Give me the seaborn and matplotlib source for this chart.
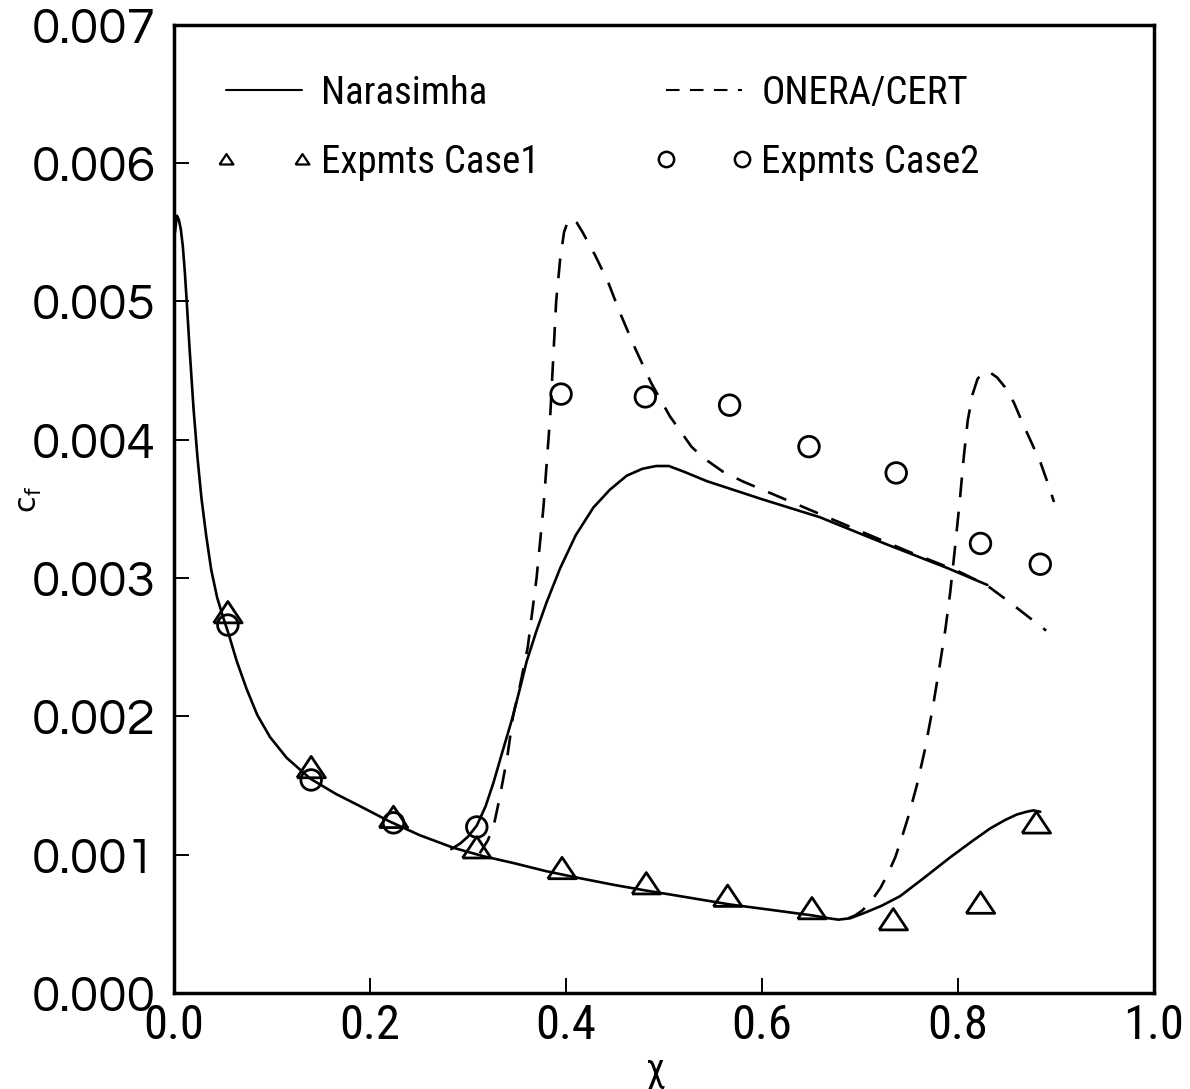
import numpy as np
import pandas as pd
import matplotlib
matplotlib.use("Agg")
import matplotlib.pyplot as plt
from matplotlib.lines import Line2D
import seaborn as sns

# ---------------- data ----------------
# Narasimha, laminar / case-1 branch
nar1_x = [0.001, 0.003, 0.005, 0.007, 0.009, 0.011, 0.013, 0.016, 0.020, 0.024,
          0.028, 0.033, 0.038, 0.044, 0.050, 0.056, 0.064, 0.074, 0.085, 0.098,
          0.115, 0.139, 0.165, 0.190, 0.220, 0.251, 0.285, 0.315, 0.346, 0.380,
          0.414, 0.450, 0.482, 0.525, 0.567, 0.610, 0.652, 0.668, 0.678, 0.690,
          0.705, 0.722, 0.741, 0.765, 0.792, 0.815, 0.833, 0.848, 0.860, 0.870,
          0.877, 0.884]
nar1_y = [0.00550, 0.00562, 0.00559, 0.00552, 0.00540, 0.00522, 0.00500, 0.00465,
          0.00422, 0.00387, 0.00358, 0.00330, 0.00306, 0.00286, 0.00272, 0.00259,
          0.00240, 0.00220, 0.00201, 0.00185, 0.00170, 0.00155, 0.00144, 0.00135,
          0.00124, 0.00114, 0.00105, 0.00099, 0.00094, 0.00088, 0.00083, 0.00078,
          0.00074, 0.00069, 0.00064, 0.00060, 0.00056, 0.00054, 0.00053, 0.00054,
          0.00058, 0.00063, 0.00070, 0.00083, 0.00098, 0.00110, 0.00119, 0.00125,
          0.00129, 0.00131, 0.00132, 0.00131]
# Narasimha, case-2 transition branch
nar2_x = [0.283, 0.292, 0.300, 0.309, 0.318, 0.326, 0.335, 0.345, 0.353, 0.360,
          0.370, 0.380, 0.394, 0.410, 0.428, 0.445, 0.462, 0.478, 0.492, 0.505,
          0.520, 0.544, 0.600, 0.659, 0.725, 0.790, 0.830]
nar2_y = [0.00104, 0.00108, 0.00113, 0.00121, 0.00135, 0.00152, 0.00174, 0.00198,
          0.00220, 0.00240, 0.00262, 0.00282, 0.00307, 0.00331, 0.00351, 0.00364,
          0.00374, 0.00379, 0.00381, 0.00381, 0.00377, 0.00370, 0.00357, 0.00344,
          0.00325, 0.00307, 0.00295]
# ONERA/CERT, case-2 branch
one2_x = [0.312, 0.320, 0.326, 0.332, 0.340, 0.346, 0.353, 0.361, 0.370, 0.377,
          0.384, 0.390, 0.394, 0.398, 0.402, 0.406, 0.411, 0.417, 0.430, 0.443,
          0.455, 0.470, 0.487, 0.506, 0.518, 0.528, 0.540, 0.560, 0.580, 0.600,
          0.650, 0.700, 0.750, 0.800, 0.829, 0.850, 0.870, 0.890]
one2_y = [0.00101, 0.00110, 0.00120, 0.00140, 0.00170, 0.00200, 0.00222, 0.00250,
          0.00300, 0.00351, 0.00418, 0.00500, 0.00530, 0.00550, 0.00558, 0.00560,
          0.00557, 0.00550, 0.00533, 0.00514, 0.00492, 0.00467, 0.00441, 0.00417,
          0.00405, 0.00395, 0.00387, 0.00377, 0.00370, 0.00364, 0.00349, 0.00334,
          0.00319, 0.00305, 0.00295, 0.00284, 0.00273, 0.00262]
# ONERA/CERT, case-1 branch
one1_x = [0.688, 0.695, 0.703, 0.713, 0.721, 0.729, 0.736, 0.743, 0.750, 0.758,
          0.766, 0.774, 0.781, 0.787, 0.792, 0.797, 0.802, 0.806, 0.810, 0.815,
          0.820, 0.826, 0.832, 0.840, 0.848, 0.857, 0.866, 0.875, 0.884, 0.892,
          0.898]
one1_y = [0.00054, 0.00056, 0.00060, 0.00068, 0.00076, 0.00087, 0.00098, 0.00113,
          0.00129, 0.00150, 0.00175, 0.00205, 0.00235, 0.00262, 0.00289, 0.00322,
          0.00357, 0.00388, 0.00414, 0.00433, 0.00444, 0.00449, 0.00449, 0.00445,
          0.00438, 0.00427, 0.00412, 0.00398, 0.00384, 0.00368, 0.00355]
# experiments
case1_x = [0.055, 0.140, 0.224, 0.309, 0.396, 0.482, 0.565, 0.651, 0.734, 0.823, 0.880]
case1_y = [0.00275, 0.00163, 0.00127, 0.00105, 0.00090, 0.00079, 0.00070, 0.00061,
           0.00053, 0.00065, 0.00123]
case2_x = [0.055, 0.140, 0.224, 0.309, 0.395, 0.481, 0.567, 0.648, 0.737, 0.823, 0.884]
case2_y = [0.00266, 0.00154, 0.00123, 0.00120, 0.00433, 0.00431, 0.00425, 0.00395,
           0.00376, 0.00325, 0.00310]

x_ticks = [0.0, 0.2, 0.4, 0.6, 0.8, 1.0]
x_ticklabels = ["0.0", "0.2", "0.4", "0.6", "0.8", "1.0"]
y_ticks = [0.000, 0.001, 0.002, 0.003, 0.004, 0.005, 0.006, 0.007]
y_ticklabels = ["0.000", "0.001", "0.002", "0.003", "0.004", "0.005", "0.006", "0.007"]
legend_labels = ["Narasimha", "ONERA/CERT", "Expmts Case1", "Expmts Case2"]

# ---------------- style ----------------
sns.set_style("ticks")
plt.rcParams["font.family"] = ["DejaVu Sans"]
plt.rcParams["text.color"] = "black"
plt.rcParams["xtick.color"] = "black"
plt.rcParams["ytick.color"] = "black"
plt.rcParams["axes.labelcolor"] = "black"
narrow = ["Roboto Condensed", "DejaVu Sans"]
wide = ["Questrial", "DejaVu Sans"]

fig = plt.figure(figsize=(11.9, 10.89), dpi=100)
ax = fig.add_axes([0.1462, 0.0882, 0.8235, 0.889])

LW = 1.9
DASH = (7.5, 5.5)
tri = [(-1.0, -0.72), (1.0, -0.72), (0.0, 0.78), (-1.0, -0.72)]

for xs, ys in [(nar1_x, nar1_y), (nar2_x, nar2_y)]:
    sns.lineplot(data=pd.DataFrame({"x": xs, "y": ys}), x="x", y="y", sort=False,
                 estimator=None, color="black", lw=LW, ax=ax)
for xs, ys in [(one2_x, one2_y), (one1_x, one1_y)]:
    sns.lineplot(data=pd.DataFrame({"x": xs, "y": ys}), x="x", y="y", sort=False,
                 estimator=None, color="black", lw=LW, dashes=False, ax=ax,
                 linestyle=(0, DASH))

sns.scatterplot(data=pd.DataFrame({"x": case1_x, "y": case1_y}), x="x", y="y",
                marker=tri, s=420, facecolor="none", edgecolor="black",
                linewidth=2.0, ax=ax, zorder=5)
sns.scatterplot(data=pd.DataFrame({"x": case2_x, "y": case2_y}), x="x", y="y",
                marker="o", s=220, facecolor="none", edgecolor="black",
                linewidth=2.0, ax=ax, zorder=5)

ax.set_xlim(0, 1.0)
ax.set_ylim(0, 0.007)
ax.set_xticks(x_ticks)
ax.set_xticklabels(x_ticklabels, fontfamily=narrow, fontsize=35, color="black")
ax.set_yticks(y_ticks)
ax.set_yticklabels(y_ticklabels, fontfamily=wide, fontsize=37, color="black")
ax.tick_params(axis="both", direction="in", length=11, width=1.4, color="black")
ax.tick_params(axis="x", pad=7)
ax.tick_params(axis="y", pad=13)
for sp in ax.spines.values():
    sp.set_visible(True)
    sp.set_linewidth(2.5)
    sp.set_color("black")

ax.set_xlabel("χ", fontsize=28, fontfamily=narrow, color="black")
ax.xaxis.label.set_va("center")
ax.xaxis.set_label_coords(0.49, -0.080)
ax.set_ylabel(r"c$_\mathregular{f}$", fontsize=22, color="black")
ax.yaxis.label.set_va("center")
ax.yaxis.set_label_coords(-0.147, 0.51)

h_nar = Line2D([], [], color="black", lw=1.5)
h_one = Line2D([], [], color="black", lw=1.5, linestyle=(0, (6.5, 5)))
h_c1 = Line2D([], [], color="black", lw=0, marker=tri, markersize=10,
              markerfacecolor="none", markeredgewidth=1.6)
h_c2 = Line2D([], [], color="black", lw=0, marker="o", markersize=11,
              markerfacecolor="none", markeredgewidth=1.8)
# ncol=2 fills by column, so order handles to get rows (Narasimha, ONERA) / (Case1, Case2)
handles = [h_nar, h_c1, h_one, h_c2]
labels = [legend_labels[0], legend_labels[2], legend_labels[1], legend_labels[3]]
leg = ax.legend(handles, labels, loc="upper left", ncol=2, frameon=False,
                numpoints=2, handlelength=2.55, handletextpad=0.2, borderpad=0.0,
                borderaxespad=0.0, columnspacing=2.95, labelspacing=0.82,
                bbox_to_anchor=(0.041, 0.9483),
                prop={"family": narrow, "size": 28})
for t in leg.get_texts():
    t.set_color("black")

fig.savefig("out.png", dpi=100, facecolor="white")
